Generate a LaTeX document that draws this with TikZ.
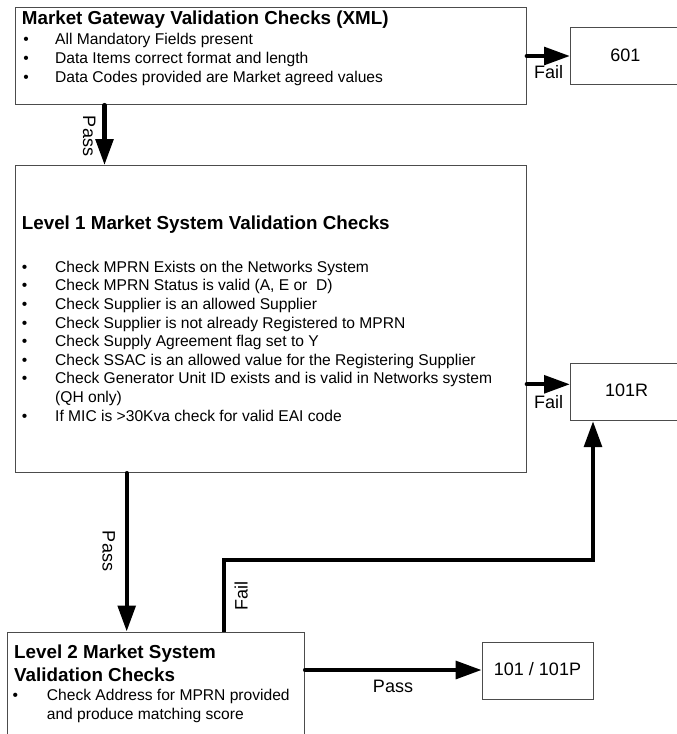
\documentclass[tikz,border=0pt]{standalone}
\usepackage{fontspec}
\setmainfont{Liberation Sans}
\usetikzlibrary{arrows.meta}
\begin{document}
\begin{tikzpicture}[x=1pt,y=-1pt,
  box/.style={draw=black!70,line width=1.1pt,inner sep=0pt,anchor=north west},
  ttl/.style={font=\fontsize{18.8}{22.7}\selectfont\bfseries,anchor=base west,inner sep=0pt},
  txt/.style={font=\fontsize{15.6}{18.6}\selectfont,anchor=base west,inner sep=0pt},
  bul/.style={font=\fontsize{15.6}{18.6}\selectfont,anchor=base,inner sep=0pt},
  lbl/.style={font=\fontsize{18}{21}\selectfont,inner sep=0pt},
  conn/.style={line width=4.3pt,line cap=round,-{Triangle[length=26pt,width=17.5pt]}}
]
\clip (0,0) rectangle (677,734);
% boxes
\node[box,minimum width=510.4pt,minimum height=96.7pt] (b1) at (15.3,7.3) {};
\node[box,minimum width=110pt,minimum height=56.7pt] (n601) at (570,27.3) {};
\node[box,minimum width=510.4pt,minimum height=307pt] (b2) at (15.3,165) {};
\node[box,minimum width=113pt,minimum height=57.3pt] (n101R) at (570,362.7) {};
\node[box,minimum width=297.3pt,minimum height=140pt] (b3) at (6.7,631.5) {};
\node[box,minimum width=111.6pt,minimum height=57.3pt] (n101P) at (481.7,641.7) {};
% box 1 text
\node[ttl] (t1) at (21.7,24) {Market Gateway Validation Checks (XML)};
\node[bul] (b1a) at (26,44.3) {•};
\node[txt] (b1at) at (55,44.3) {All Mandatory Fields present};
\node[bul] (b1b) at (26,63.5) {•};
\node[txt] (b1bt) at (55,63.5) {Data Items correct format and length};
\node[bul] (b1c) at (26,82.7) {•};
\node[txt] (b1ct) at (55,82.7) {Data Codes provided are Market agreed values};
% box 2 text
\node[ttl] (t2) at (21.7,229) {Level 1 Market System Validation Checks};
\node[bul] (b2a) at (24.7,272.3) {•};
\node[txt] (b2at) at (55,272.3) {Check MPRN Exists on the Networks System};
\node[bul] (b2b) at (24.7,290.9) {•};
\node[txt] (b2bt) at (55,290.9) {Check MPRN Status is valid (A, E or \ D)};
\node[bul] (b2c) at (24.7,309.5) {•};
\node[txt] (b2ct) at (55,309.5) {Check Supplier is an allowed Supplier};
\node[bul] (b2d) at (24.7,328.1) {•};
\node[txt] (b2dt) at (55,328.1) {Check Supplier is not already Registered to MPRN};
\node[bul] (b2e) at (24.7,346.7) {•};
\node[txt] (b2et) at (55,346.7) {Check Supply Agreement flag set to Y};
\node[bul] (b2f) at (24.7,365.3) {•};
\node[txt] (b2ft) at (55,365.3) {Check SSAC is an allowed value for the Registering Supplier};
\node[bul] (b2g) at (24.7,383.9) {•};
\node[txt] (b2gt) at (55,383.9) {Check Generator Unit ID exists and is valid in Networks system};
\node[txt] (b2gu) at (55,402.5) {(QH only)};
\node[bul] (b2h) at (24.7,421.1) {•};
\node[txt] (b2ht) at (55,421.1) {If MIC is >30Kva check for valid EAI code};
% box 3 text
\node[ttl] (t3a) at (14,658.3) {Level 2 Market System};
\node[ttl] (t3b) at (14,681) {Validation Checks};
\node[bul] (b3a) at (15.3,700.7) {•};
\node[txt] (b3at) at (46.7,700.7) {Check Address for MPRN provided};
\node[txt] (b3au) at (46.7,719.3) {and produce matching score};
% result texts
\node[lbl,anchor=base] (x601) at (625.3,61.7) {601};
\node[lbl,anchor=base] (x101R) at (626.7,396.7) {101R};
\node[lbl,anchor=base] (x101P) at (537.5,675.7) {101 / 101P};
% connectors
\draw[conn] (b1.east |- 0,56) -- (n601.west |- 0,56);
\node[lbl,anchor=base west] (f1) at (534,78) {Fail};
\draw[conn] (b1.south -| 104.5,0) -- (b2.north -| 104.5,0);
\node[lbl,anchor=base,rotate=-90] (p1) at (83,136) {Pass};
\draw[conn] (b2.east |- 0,384.3) -- (n101R.west |- 0,384.3);
\node[lbl,anchor=base west] (f2) at (534,408) {Fail};
\draw[conn] (b2.south -| 126.7,0) -- (b3.north -| 126.7,0);
\node[lbl,anchor=base,rotate=-90] (p2) at (102.5,551) {Pass};
\coordinate (c1) at (224,560);
\coordinate (c2) at (593,560);
\draw[conn,line cap=butt] (b3.north -| c1) -- (c1) -- (c2) -- (n101R.south -| c2);
\node[lbl,anchor=base,rotate=90] (f3) at (247.5,596) {Fail};
\draw[conn] (b3.east |- 0,670) -- (n101P.west |- 0,670);
\node[lbl,anchor=base] (p3) at (393,692.3) {Pass};
\end{tikzpicture}
\end{document}
